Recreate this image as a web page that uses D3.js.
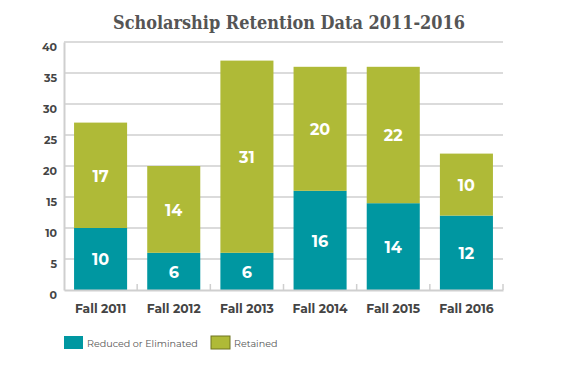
<!doctype html>
<html lang="en">
<head>
<meta charset="UTF-8">
<title>Scholarship Retention Data 2011-2016</title>
<script src="https://d3js.org/d3.v7.min.js"></script>
<style>
  body { margin: 0; background: #fff; }
</style>
</head>
<body>
<div id="chart"></div>
<script>
// chart data
var categories = ["Fall 2011", "Fall 2012", "Fall 2013", "Fall 2014", "Fall 2015", "Fall 2016"];
var reduced = [10, 6, 6, 16, 14, 12];
var retained = [17, 14, 31, 20, 22, 10];
var seriesNames = ["Reduced or Eliminated", "Retained"];
var yTicks = [0, 5, 10, 15, 20, 25, 30, 35, 40];

var width = 570, height = 370;
var colors = ["#0097a1", "#afba37"];
var labelFont = "'Montserrat', 'Open Sans', 'Lato', sans-serif";

var svg = d3.select("#chart").append("svg")
  .attr("width", width)
  .attr("height", height);

// title
svg.append("text")
  .attr("x", 289).attr("y", 29)
  .attr("text-anchor", "middle")
  .attr("font-family", "'DejaVu Serif', serif")
  .attr("font-weight", "bold")
  .attr("font-size", 19)
  .attr("textLength", 352)
  .attr("lengthAdjust", "spacingAndGlyphs")
  .attr("fill", "#555")
  .text("Scholarship Retention Data 2011-2016");

var x = d3.scaleBand()
  .domain(categories)
  .range([64, 503])
  .paddingInner(0.275)
  .paddingOuter(0.1375);

var y = d3.scaleLinear()
  .domain([0, 40])
  .range([290, 42]);

// gridlines
svg.append("g")
  .selectAll("line")
  .data(yTicks.slice(1))
  .enter().append("line")
  .attr("x1", 64).attr("x2", 503)
  .attr("y1", function(d){ return y(d); })
  .attr("y2", function(d){ return y(d); })
  .attr("stroke", "#cfcfcf")
  .attr("stroke-width", 1.5);

// y axis
var yAxis = d3.axisLeft(y).tickValues(yTicks).tickSize(0).tickPadding(7);
var gy = svg.append("g").attr("transform", "translate(64,0)").call(yAxis);
gy.select(".domain").attr("stroke", "#cfcfcf").attr("stroke-width", 2);
gy.selectAll("text")
  .attr("dy", "0.75em")
  .attr("font-family", labelFont)
  .attr("font-weight", "bold")
  .attr("font-size", 11)
  .attr("fill", "#444");

// stacked data
var stacked = categories.map(function(c, i){
  return { cat: c, vals: [reduced[i], retained[i]] };
});

var groups = svg.append("g").selectAll("g")
  .data(stacked)
  .enter().append("g");

groups.each(function(d){
  var g = d3.select(this);
  var base = 0;
  d.vals.forEach(function(v, k){
    g.append("rect")
      .attr("x", x(d.cat))
      .attr("width", x.bandwidth())
      .attr("y", y(base + v))
      .attr("height", y(base) - y(base + v))
      .attr("fill", colors[k]);
    g.append("text")
      .attr("x", x(d.cat) + x.bandwidth() / 2)
      .attr("y", y(base + v / 2))
      .attr("dy", "0.4em")
      .attr("text-anchor", "middle")
      .attr("font-family", labelFont)
      .attr("font-weight", "bold")
      .attr("font-size", 16)
      .attr("fill", "#fff")
      .text(v);
    base += v;
  });
});

// x axis
var xAxis = d3.axisBottom(x).tickSize(0).tickPadding(14);
var gx = svg.append("g").attr("transform", "translate(0,290)").call(xAxis);
gx.select(".domain").attr("stroke", "#cfcfcf").attr("stroke-width", 2);
gx.selectAll("text")
  .attr("font-family", labelFont)
  .attr("font-weight", "bold")
  .attr("font-size", 12.3)
  .attr("fill", "#444");

// small boundary ticks between bands
var step = x.step();
svg.append("g").selectAll("line")
  .data(d3.range(1, categories.length + 1))
  .enter().append("line")
  .attr("x1", function(i){ return 64 + i * step; })
  .attr("x2", function(i){ return 64 + i * step; })
  .attr("y1", 284).attr("y2", 290)
  .attr("stroke", "#cfcfcf")
  .attr("stroke-width", 1.5);

// legend
var legendX = [64, 211];
var legend = svg.append("g").selectAll("g")
  .data(seriesNames)
  .enter().append("g")
  .attr("transform", function(d, i){ return "translate(" + legendX[i] + ",336)"; });
legend.append("rect")
  .attr("width", 19).attr("height", 13)
  .attr("fill", function(d, i){ return colors[i]; })
  .attr("stroke", function(d, i){ return i == 1 ? "#6f7420" : "none"; })
  .attr("stroke-width", 1);
legend.append("text")
  .attr("x", 23).attr("y", 11)
  .attr("font-family", labelFont)
  .attr("font-size", 9.6)
  .attr("fill", "#555")
  .text(function(d){ return d; });
</script>
</body>
</html>
